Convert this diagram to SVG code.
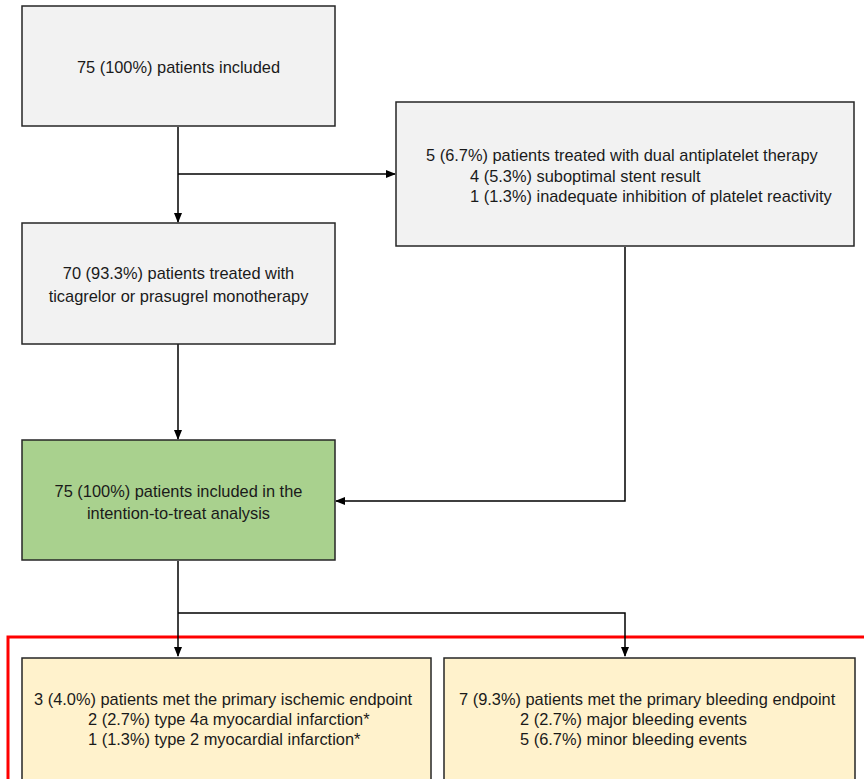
<svg xmlns="http://www.w3.org/2000/svg" width="864" height="779" viewBox="0 0 864 779">
<style>
.box{stroke:#262626;stroke-width:1.5}
.grey{fill:#f2f2f2}
.green{fill:#a9d18e}
.yellow{fill:#fff2cc}
text{font-family:"Liberation Sans",Arial,sans-serif;font-size:16.4px;fill:#1a1a1a}
.c{text-anchor:middle}
.line{fill:none;stroke:#000;stroke-width:1.5}
</style>
<defs>
<marker id="arr" markerWidth="10" markerHeight="10" refX="9" refY="5" orient="auto" markerUnits="userSpaceOnUse">
<path d="M0,1 L10,5 L0,9 Z" fill="#000"/>
</marker>
</defs>
<rect x="8" y="637" width="860" height="150" fill="none" stroke="#ff0000" stroke-width="3"/>
<g id="connectors">
<path class="line" d="M178,127 V222" marker-end="url(#arr)"/>
<path class="line" d="M178,174 H395" marker-end="url(#arr)"/>
<path class="line" d="M178,344 V439" marker-end="url(#arr)"/>
<path class="line" d="M625,247 V501 H336" marker-end="url(#arr)"/>
<path class="line" d="M178,561 V656" marker-end="url(#arr)"/>
<path class="line" d="M178,613 H625 V656" marker-end="url(#arr)"/>
</g>
<g id="n1">
<rect class="box grey" x="22" y="6" width="313" height="120"/>
<text class="c" x="178.5" y="73">75 (100%) patients included</text>
</g>
<g id="n2">
<rect class="box grey" x="396" y="102" width="458" height="144"/>
<text x="426" y="161">5 (6.7%) patients treated with dual antiplatelet therapy</text>
<text x="470" y="182">4 (5.3%) suboptimal stent result</text>
<text x="470" y="202">1 (1.3%) inadequate inhibition of platelet reactivity</text>
</g>
<g id="n3">
<rect class="box grey" x="22" y="223" width="313" height="121"/>
<text class="c" x="178.5" y="279">70 (93.3%) patients treated with</text>
<text class="c" x="178.5" y="302">ticagrelor or prasugrel monotherapy</text>
</g>
<g id="n4">
<rect class="box green" x="22" y="440" width="313" height="120"/>
<text class="c" x="178.5" y="497">75 (100%) patients included in the</text>
<text class="c" x="178.5" y="519">intention-to-treat analysis</text>
</g>
<g id="n5">
<rect class="box yellow" x="22" y="658" width="409" height="130"/>
<text x="34" y="705">3 (4.0%) patients met the primary ischemic endpoint</text>
<text x="88" y="725">2 (2.7%) type 4a myocardial infarction*</text>
<text x="88" y="745">1 (1.3%) type 2 myocardial infarction*</text>
</g>
<g id="n6">
<rect class="box yellow" x="444" y="658" width="411" height="130"/>
<text x="459" y="705">7 (9.3%) patients met the primary bleeding endpoint</text>
<text x="520" y="725">2 (2.7%) major bleeding events</text>
<text x="520" y="745">5 (6.7%) minor bleeding events</text>
</g>
</svg>
